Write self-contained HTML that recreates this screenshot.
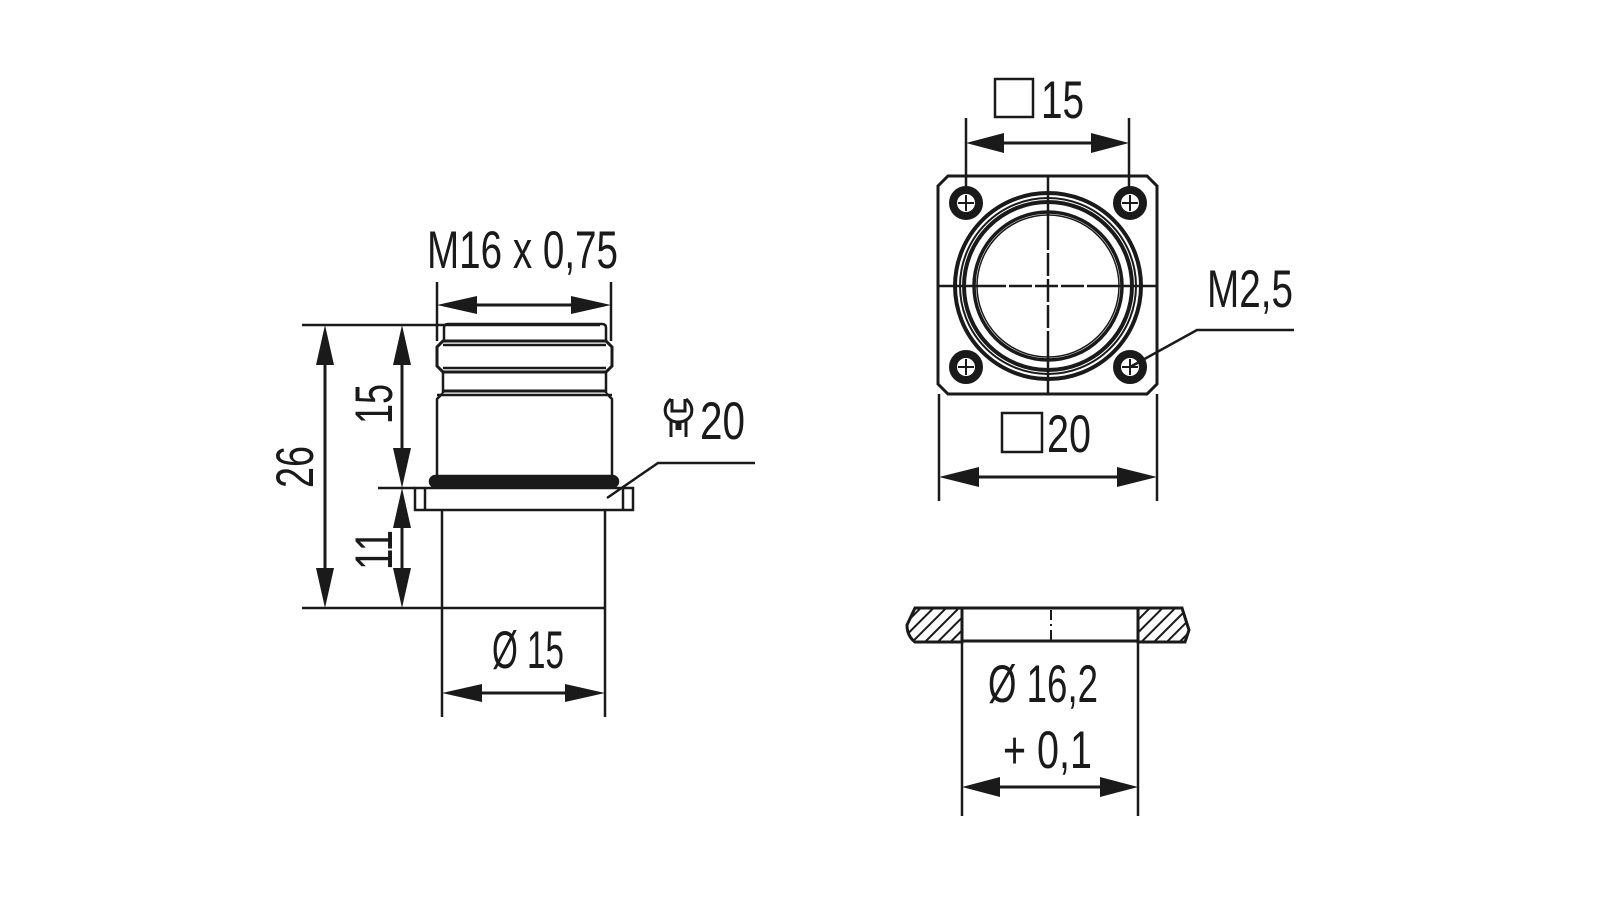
<!DOCTYPE html>
<html><head><meta charset="utf-8"><style>
html,body{margin:0;padding:0;background:#fff;}
svg{display:block}
text{font-family:"Liberation Sans",sans-serif;font-size:53px;fill:#1a1a1a}
</style></head><body>
<svg width="1600" height="900" viewBox="0 0 1600 900" xmlns="http://www.w3.org/2000/svg">
<defs>
<pattern id="h" patternUnits="userSpaceOnUse" width="9" height="9" patternTransform="rotate(45)">
<rect width="9" height="9" fill="#fff"/><line x1="0" y1="0" x2="0" y2="9" stroke="#1a1a1a" stroke-width="4"/>
</pattern>
</defs>
<g stroke="#1a1a1a" stroke-width="2.5" fill="none">
<path d="M444 341 V328 Q444 324 448 324 H602 Q606 324 606 328 V341"/>
<line x1="302" y1="325" x2="600" y2="325"/>
<path d="M443 341 H606 L612 347 V366 L606 372 H443 L437 366 V347 Z" stroke-width="3"/>
<line x1="443" y1="345" x2="606" y2="345"/>
<line x1="443" y1="368" x2="606" y2="368"/>
<line x1="443" y1="372" x2="443" y2="393"/>
<line x1="606" y1="372" x2="606" y2="393"/>
<line x1="443" y1="391" x2="606" y2="391" stroke-width="3"/>
<path d="M443 393 L437 399 V475 M606 393 L612 399 V475"/>
<line x1="437" y1="395" x2="612" y2="395"/>
<rect x="430" y="476" width="188" height="11" rx="5.5" fill="#1a1a1a"/>
<rect x="415" y="488" width="218" height="22"/>
<line x1="425" y1="488" x2="425" y2="510"/>
<line x1="623" y1="488" x2="623" y2="510"/>
<line x1="378" y1="488" x2="415" y2="488"/>
<line x1="442" y1="510" x2="442" y2="717"/>
<line x1="605" y1="510" x2="605" y2="717"/>
<line x1="302" y1="608" x2="605" y2="608"/>
<line x1="437" y1="282" x2="437" y2="341"/>
<line x1="611" y1="282" x2="611" y2="341"/>
<line x1="470" y1="305" x2="578" y2="305" stroke-width="3"/>
<line x1="475" y1="693" x2="572" y2="693" stroke-width="3"/>
<line x1="325" y1="360" x2="325" y2="573" stroke-width="3"/>
<line x1="402" y1="360" x2="402" y2="453" stroke-width="3"/>
<line x1="402" y1="523" x2="402" y2="573" stroke-width="3"/>
<polyline points="607,498 658,463 755,463"/>

<path d="M948 176 H1147 L1157 186 V384 L1147 394 H948 L938 384 V186 Z" stroke-width="3"/>
<line x1="938" y1="286" x2="1157" y2="286"/>
<line x1="1048" y1="176" x2="1048" y2="394"/>
<circle cx="1048" cy="286" r="93" stroke-width="4"/>
<circle cx="1048" cy="286" r="88" stroke-width="2"/>
<circle cx="1048" cy="286" r="84" stroke-width="4"/>
<circle cx="1048" cy="286" r="74" stroke-width="3.5"/>
<circle cx="1048" cy="286" r="71" stroke-width="1.5"/>
<g stroke-width="8">
<circle cx="966" cy="203" r="13"/><circle cx="1130" cy="203" r="13"/>
<circle cx="966" cy="367" r="13"/><circle cx="1130" cy="367" r="13"/>
</g>
<g stroke-width="2">
<path d="M958 203 H974 M966 195 V211 M1122 203 H1138 M1130 195 V211 M958 367 H974 M966 359 V375 M1122 367 H1138 M1130 359 V375"/>
</g>
<line x1="966" y1="118" x2="966" y2="190"/>
<line x1="1129" y1="118" x2="1129" y2="190"/>
<line x1="1000" y1="143" x2="1095" y2="143" stroke-width="3"/>
<line x1="939" y1="394" x2="939" y2="501"/>
<line x1="1157" y1="394" x2="1157" y2="501"/>
<line x1="975" y1="477" x2="1120" y2="477" stroke-width="3"/>
<polyline points="1130,367 1197,330 1294,330"/>
<rect x="995" y="79" width="38" height="38"/>
<rect x="1002" y="413" width="40" height="39"/>

<path d="M915 608 H962 V642 H915 Q907 636 907 625 Z" fill="url(#h)" stroke-width="3"/>
<path d="M1138 608 H1182 L1189 630 L1185 642 H1138 Z" fill="url(#h)" stroke-width="3"/>
<line x1="962" y1="608" x2="1138" y2="608" stroke-width="3"/>
<line x1="962" y1="641" x2="1138" y2="641" stroke-width="3"/>
<line x1="1051" y1="610" x2="1051" y2="640" stroke-width="2" stroke-dasharray="10 4 2 4"/>
<line x1="962" y1="641" x2="962" y2="816"/>
<line x1="1138" y1="641" x2="1138" y2="816"/>
<line x1="995" y1="787" x2="1105" y2="787" stroke-width="3"/>
</g>
<g stroke="#fff" stroke-width="3">
<line x1="1048" y1="232" x2="1048" y2="340" stroke-dasharray="0 18 3 5"/>
<line x1="988" y1="286" x2="1108" y2="286" stroke-dasharray="0 18 3 5"/>
</g>
<g fill="#1a1a1a">
<polygon points="437,305 477,296 477,314"/><polygon points="611,305 571,296 571,314"/>
<polygon points="442,693 482,684 482,702"/><polygon points="605,693 565,684 565,702"/>
<polygon points="325,325 316,365 334,365"/><polygon points="325,608 316,568 334,568"/>
<polygon points="402,325 393,365 411,365"/><polygon points="402,488 393,448 411,448"/>
<polygon points="402,488 393,528 411,528"/><polygon points="402,608 393,568 411,568"/>
<polygon points="966,143 1004,133 1004,153"/><polygon points="1129,143 1091,133 1091,153"/>
<polygon points="939,477 979,467 979,487"/><polygon points="1157,477 1117,467 1117,487"/>
<polygon points="962,787 1000,777 1000,797"/><polygon points="1138,787 1100,777 1100,797"/>
</g>
<g stroke="#1a1a1a" stroke-width="3" fill="none">
<path d="M671 399 Q663 406 666 415 Q670 422 678 422 Q687 422 691 415 Q694 406 686 399 M672 399 V411 H685 V399"/>
<path d="M671 421 L671 437 M677 423 V430 M680 423 V430 M686 421 L686 437"/>
</g>
<text x="427" y="268" textLength="191" lengthAdjust="spacingAndGlyphs">M16 x 0,75</text>
<text x="700" y="439" textLength="45" lengthAdjust="spacingAndGlyphs">20</text>
<text x="492" y="668" textLength="72" lengthAdjust="spacingAndGlyphs">Ø 15</text>
<text transform="translate(313,488) rotate(-90)" textLength="42" lengthAdjust="spacingAndGlyphs">26</text>
<text transform="translate(392,424) rotate(-90)" textLength="40" lengthAdjust="spacingAndGlyphs">15</text>
<text transform="translate(392,570) rotate(-90)" textLength="40" lengthAdjust="spacingAndGlyphs">11</text>
<text x="1041" y="118" textLength="43" lengthAdjust="spacingAndGlyphs">15</text>
<text x="1047" y="452" textLength="44" lengthAdjust="spacingAndGlyphs">20</text>
<text x="1207" y="307" textLength="86" lengthAdjust="spacingAndGlyphs">M2,5</text>
<text x="988" y="702" textLength="110" lengthAdjust="spacingAndGlyphs">Ø 16,2</text>
<text x="1003" y="768" textLength="89" lengthAdjust="spacingAndGlyphs">+ 0,1</text>
</svg>
</body></html>
